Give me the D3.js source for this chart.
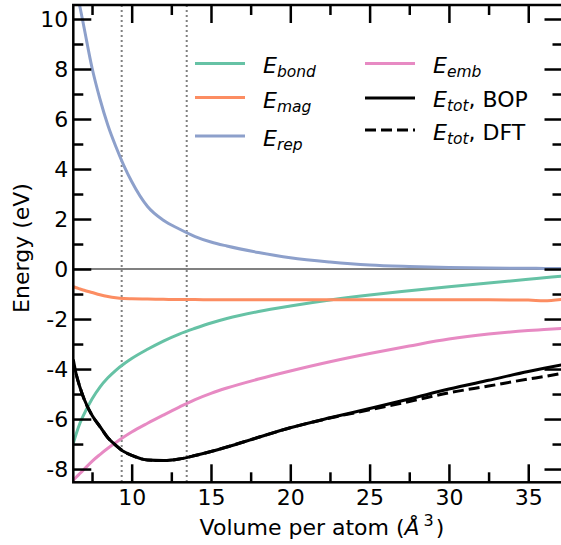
<!DOCTYPE html>
<html>
<head>
<meta charset="utf-8">
<script src="https://cdn.jsdelivr.net/npm/d3@7"></script>
<style>
  html, body { margin: 0; padding: 0; background: #fff; }
  svg { display: block; font-family: "DejaVu Sans", sans-serif; }
</style>
</head>
<body>
<svg id="chart" width="561" height="545"></svg>
<script>
// Volume grid (Å^3) shared by all energy contributions
const volume = [6.32, 6.5, 6.75, 7, 7.5, 8, 8.5, 9, 9.5, 10, 11, 12, 13, 14, 15, 16, 18, 20, 22.5, 25, 27.5, 30, 32.5, 35, 36, 37.16];

// Energy contributions (eV)
const eBond = [-6.97, -6.6, -6.15, -5.8, -5.2, -4.72, -4.35, -4.05, -3.8, -3.58, -3.21, -2.88, -2.6, -2.37, -2.16, -1.98, -1.7, -1.48, -1.24, -1.04, -0.87, -0.71, -0.56, -0.41, -0.35, -0.28];
const eMag  = [-0.71, -0.75, -0.8, -0.85, -0.94, -1.03, -1.1, -1.15, -1.18, -1.19, -1.2, -1.21, -1.22, -1.22, -1.23, -1.23, -1.23, -1.23, -1.23, -1.23, -1.23, -1.23, -1.23, -1.24, -1.27, -1.21];
const eRep  = [11.9, 11.2, 10.45, 9.65, 8.05, 6.8, 5.75, 4.9, 4.15, 3.5, 2.5, 1.95, 1.6, 1.3, 1.08, 0.92, 0.66, 0.45, 0.28, 0.16, 0.1, 0.06, 0.04, 0.03, 0.025, 0.02];
const eEmb  = [-8.45, -8.33, -8.17, -8.01, -7.69, -7.42, -7.17, -6.94, -6.72, -6.52, -6.17, -5.84, -5.52, -5.22, -4.97, -4.76, -4.4, -4.08, -3.71, -3.38, -3.08, -2.8, -2.6, -2.46, -2.42, -2.37];
const eTotBop = [-3.62, -4.2, -4.75, -5.2, -5.85, -6.3, -6.75, -7.05, -7.3, -7.45, -7.64, -7.66, -7.6, -7.46, -7.3, -7.12, -6.73, -6.35, -5.95, -5.58, -5.2, -4.8, -4.45, -4.1, -3.97, -3.83];
const eTotDft = [null, -4.2, -4.75, -5.2, -5.85, -6.3, -6.75, -7.05, -7.3, -7.45, -7.64, -7.66, -7.6, -7.46, -7.3, -7.12, -6.73, -6.35, -5.96, -5.63, -5.3, -4.95, -4.68, -4.4, -4.3, -4.17];

// Reference volumes marked by dotted lines
const markVolumes = [9.37, 13.47];

// Axis ticks
const xMajor = [10, 15, 20, 25, 30, 35];
const xMinor = [7.5, 12.5, 17.5, 22.5, 27.5, 32.5];
const yMajor = [-8, -6, -4, -2, 0, 2, 4, 6, 8, 10];
const yMinor = [-7, -5, -3, -1, 1, 3, 5, 7, 9];

const series = [
  { name: "bond", values: eBond,   color: "#66c2a5", dash: null },
  { name: "mag",  values: eMag,    color: "#fc8d62", dash: null },
  { name: "rep",  values: eRep,    color: "#8da0cb", dash: null },
  { name: "emb",  values: eEmb,    color: "#e78ac3", dash: null },
  { name: "tot",  values: eTotBop, color: "#000000", dash: null, suffix: ", BOP" },
  { name: "tot",  values: eTotDft, color: "#000000", dash: "11,5", suffix: ", DFT" }
];

const svg = d3.select("#chart");
const pLeft = 73.3, pRight = 562.5, pTop = 5, pBottom = 482.3;

const x = d3.scaleLinear().domain([6.32, 37.16]).range([pLeft, pRight]);
const y = d3.scaleLinear().domain([-8.53, 10.56]).range([pBottom, pTop]);

svg.append("defs").append("clipPath").attr("id", "plotClip")
  .append("rect").attr("x", pLeft).attr("y", pTop).attr("width", pRight - pLeft).attr("height", pBottom - pTop);

const plot = svg.append("g").attr("clip-path", "url(#plotClip)");

// zero reference line
plot.append("line")
  .attr("x1", pLeft).attr("x2", pRight).attr("y1", y(0)).attr("y2", y(0))
  .attr("stroke", "#808080").attr("stroke-width", 2);

// dotted markers
plot.selectAll("line.mark").data(markVolumes).join("line")
  .attr("class", "mark")
  .attr("x1", d => x(d)).attr("x2", d => x(d))
  .attr("y1", pTop).attr("y2", pBottom)
  .attr("stroke", "#808080").attr("stroke-width", 2)
  .attr("stroke-dasharray", "2,3");

const line = d3.line()
  .defined(d => d[1] !== null)
  .x(d => x(d[0])).y(d => y(d[1]))
  .curve(d3.curveMonotoneX);

plot.selectAll("path.curve").data(series).join("path")
  .attr("class", "curve")
  .attr("d", s => line(volume.map((v, i) => [v, s.values[i]])))
  .attr("fill", "none")
  .attr("stroke", s => s.color)
  .attr("stroke-width", 3)
  .attr("stroke-dasharray", s => s.dash);

// Axes with inward ticks on all four sides
const tickW = 2.5, majorLen = 18, minorLen = 10;
function styleAxis(g) {
  g.select(".domain").remove();
  g.selectAll(".tick line").attr("stroke", "#000").attr("stroke-width", tickW);
  g.selectAll(".tick text").attr("fill", "#000").attr("font-size", 22).attr("font-family", "DejaVu Sans");
}

const fmt = d => String(d);

svg.append("g").attr("transform", `translate(0,${pBottom})`)
  .call(d3.axisBottom(x).tickValues(xMajor).tickFormat(fmt).tickSizeInner(-majorLen).tickSizeOuter(0).tickPadding(7))
  .call(styleAxis);
svg.append("g").attr("transform", `translate(0,${pBottom})`)
  .call(d3.axisBottom(x).tickValues(xMinor).tickFormat("").tickSizeInner(-minorLen).tickSizeOuter(0))
  .call(styleAxis);
svg.append("g").attr("transform", `translate(0,${pTop})`)
  .call(d3.axisTop(x).tickValues(xMajor).tickFormat("").tickSizeInner(-majorLen).tickSizeOuter(0))
  .call(styleAxis);
svg.append("g").attr("transform", `translate(0,${pTop})`)
  .call(d3.axisTop(x).tickValues(xMinor).tickFormat("").tickSizeInner(-minorLen).tickSizeOuter(0))
  .call(styleAxis);

svg.append("g").attr("transform", `translate(${pLeft},0)`)
  .call(d3.axisLeft(y).tickValues(yMajor).tickFormat(fmt).tickSizeInner(-majorLen).tickSizeOuter(0).tickPadding(5))
  .call(styleAxis);
svg.append("g").attr("transform", `translate(${pLeft},0)`)
  .call(d3.axisLeft(y).tickValues(yMinor).tickFormat("").tickSizeInner(-minorLen).tickSizeOuter(0))
  .call(styleAxis);
svg.append("g").attr("transform", `translate(${pRight},0)`)
  .call(d3.axisRight(y).tickValues(yMajor).tickFormat("").tickSizeInner(-majorLen).tickSizeOuter(0))
  .call(styleAxis);
svg.append("g").attr("transform", `translate(${pRight},0)`)
  .call(d3.axisRight(y).tickValues(yMinor).tickFormat("").tickSizeInner(-minorLen).tickSizeOuter(0))
  .call(styleAxis);

// frame
svg.append("rect")
  .attr("x", pLeft).attr("y", pTop).attr("width", pRight - pLeft).attr("height", pBottom - pTop)
  .attr("fill", "none").attr("stroke", "#000").attr("stroke-width", 2.5);

// axis titles
const xTitle = svg.append("text")
  .attr("x", 322).attr("y", 535)
  .attr("text-anchor", "middle").attr("font-size", 22).attr("fill", "#000");
xTitle.append("tspan").text("Volume per atom (");
xTitle.append("tspan").attr("font-style", "italic").text("Å");
xTitle.append("tspan").attr("font-size", 16).attr("dy", -9).attr("dx", 4).text("3");
xTitle.append("tspan").attr("dy", 9).attr("dx", 2).text(")");

svg.append("text")
  .attr("transform", `translate(28.5,248) rotate(-90)`)
  .attr("text-anchor", "middle").attr("font-size", 22).attr("fill", "#000")
  .text("Energy (eV)");

// legend
const legendPos = [
  { lx: 195, ty: 73,  ly: 63.5 },
  { lx: 195, ty: 108, ly: 97.5 },
  { lx: 195, ty: 146, ly: 136 },
  { lx: 365, ty: 73,  ly: 63.5 },
  { lx: 365, ty: 107, ly: 98 },
  { lx: 365, ty: 140, ly: 130 }
];
const legend = svg.append("g");
series.forEach((s, i) => {
  const p = legendPos[i];
  legend.append("line")
    .attr("x1", p.lx).attr("x2", p.lx + 50).attr("y1", p.ly).attr("y2", p.ly)
    .attr("stroke", s.color).attr("stroke-width", 3)
    .attr("stroke-dasharray", s.dash);
  const t = legend.append("text")
    .attr("x", p.lx + 68).attr("y", p.ty)
    .attr("font-size", 22).attr("fill", "#000");
  t.append("tspan").attr("font-style", "italic").text("E");
  t.append("tspan").attr("font-style", "italic").attr("font-size", 15.5).attr("dy", 4).text(s.name);
  if (s.suffix) t.append("tspan").attr("dy", -4).text(s.suffix);
});
</script>
</body>
</html>
